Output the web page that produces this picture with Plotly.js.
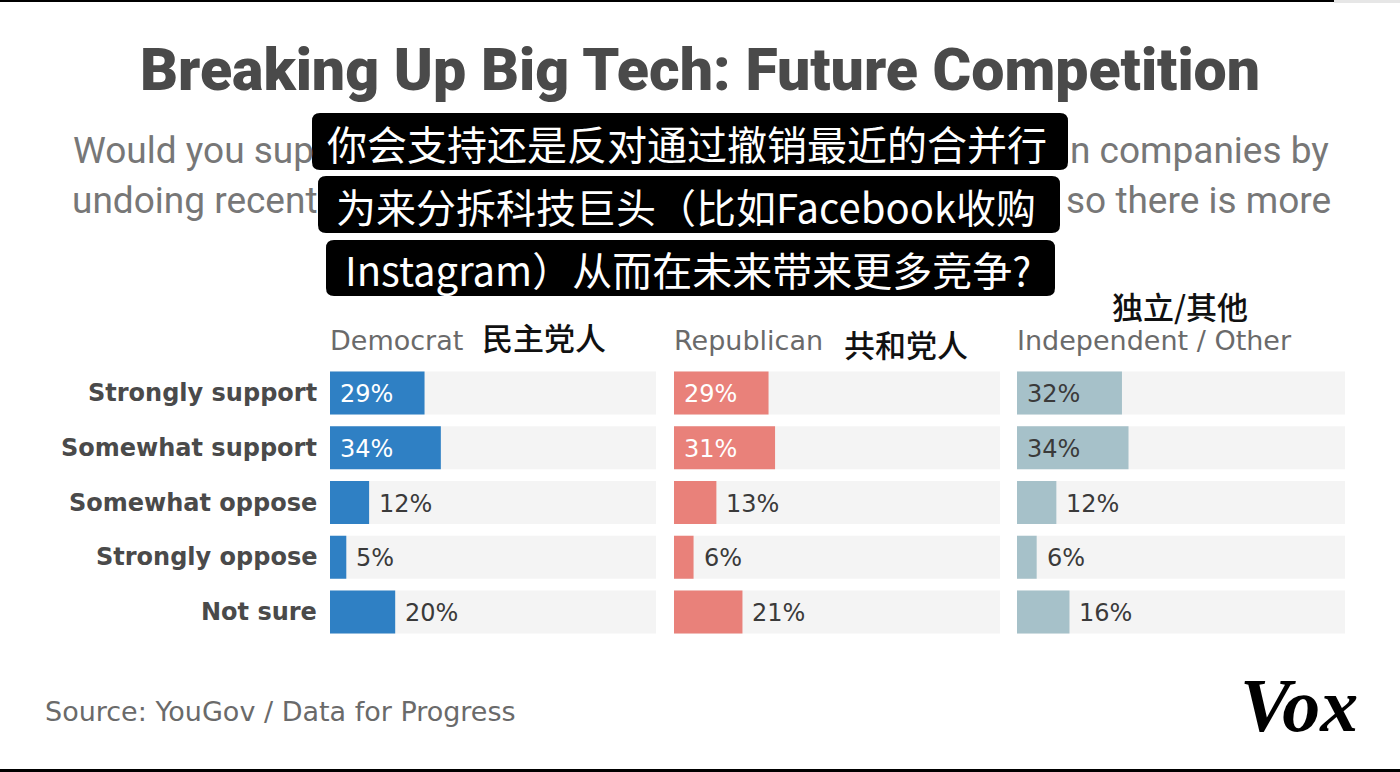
<!DOCTYPE html>
<html>
<head>
<meta charset="utf-8">
<script src="https://cdn.plot.ly/plotly-3.0.1.min.js"></script>
<style>html,body{margin:0;padding:0;background:#fff;}#chart{width:1400px;height:772px;}</style>
</head>
<body>
<div id="chart"></div>
<script>
// ---- data ----
const categories = ['Strongly support', 'Somewhat support', 'Somewhat oppose', 'Strongly oppose', 'Not sure'];
const democrat = [29, 34, 12, 5, 20];
const republican = [29, 31, 13, 6, 21];
const independent = [32, 34, 12, 6, 16];
const groupNames = ['Democrat', 'Republican', 'Independent / Other'];
const groupNamesZh = ['民主党人', '共和党人', '独立/其他'];
const titleText = 'Breaking Up Big Tech: Future Competition';
// visible fragments of the English question (the rest is hidden behind the caption boxes)
const subtitleLeft = ['Would you sup', 'undoing recent'];
const subtitleRight = ['n companies by', 'so there is more'];
const subtitleZh = [
  '你会支持还是反对通过撤销最近的合并行',
  '为来分拆科技巨头（比如Facebook收购',
  'Instagram）从而在未来带来更多竞争?'
];
const sourceText = 'Source: YouGov / Data for Progress';
const logoText = 'Vox';

// ---- layout helpers ----
const W = 1400, H = 772;
const px = v => v / W;
const py = v => 1 - v / H;

const series = [democrat, republican, independent];
const colors = ['#2f80c4', '#e9817a', '#a6c1c9'];
const insideText = ['#ffffff', '#ffffff', '#3a3a3a'];
const axisIds = ['x', 'x2', 'x3'];
const domains = [[330, 656], [674, 1000], [1017, 1345]];
const bodyFont = 'DejaVu Sans, sans-serif';

const traces = [];
const annotations = [];

series.forEach((vals, i) => {
  traces.push({
    type: 'bar', orientation: 'h',
    y: categories, x: categories.map(() => 100),
    xaxis: axisIds[i], yaxis: 'y',
    marker: {color: '#f4f4f4'}, hoverinfo: 'skip', showlegend: false
  });
  traces.push({
    type: 'bar', orientation: 'h',
    y: categories, x: vals,
    xaxis: axisIds[i], yaxis: 'y',
    marker: {color: colors[i]}, showlegend: false,
    hovertemplate: '%{y}: %{x}%<extra>' + groupNames[i] + '</extra>'
  });
  vals.forEach((v, j) => {
    const inside = v >= 25;
    annotations.push({
      xref: axisIds[i], yref: 'y',
      x: inside ? 0 : v, y: categories[j],
      xanchor: 'left', yanchor: 'middle', xshift: 8, yshift: -1,
      text: v + '%', showarrow: false,
      font: {family: bodyFont, size: 24, color: inside ? insideText[i] : '#3a3a3a'}
    });
  });
  // group header
  annotations.push({
    xref: 'paper', yref: 'paper', x: px(domains[i][0] - 2), y: py(340),
    xanchor: 'left', yanchor: 'middle', showarrow: false,
    text: groupNames[i],
    font: {family: bodyFont, size: 27, color: '#6a6a6a'}
  });
});

// Chinese group headers
const zhPos = [[480, 336], [842, 343], [1110, 305]];
groupNamesZh.forEach((t, i) => {
  annotations.push({
    xref: 'paper', yref: 'paper', x: px(zhPos[i][0]), y: py(zhPos[i][1]),
    xanchor: 'left', yanchor: 'middle', showarrow: false, text: t,
    font: {family: 'Noto Sans CJK SC, sans-serif', size: 31, color: '#111', weight: 500}
  });
});

// category labels
categories.forEach(c => {
  annotations.push({
    xref: 'paper', yref: 'y', x: px(319), y: c,
    xanchor: 'right', yanchor: 'middle', showarrow: false, yshift: 0,
    text: '<b>' + c + '</b>',
    font: {family: bodyFont, size: 24, color: '#4a4a4a'}
  });
});

// title
annotations.push({
  xref: 'paper', yref: 'paper', x: 0.5, y: py(70), xanchor: 'center', yanchor: 'middle',
  showarrow: false, text: titleText,
  font: {family: 'Roboto, sans-serif', size: 59, color: '#4a4a4a', weight: 900}
});

// English subtitle fragments around the caption boxes
[150, 200].forEach((y, k) => {
  annotations.push({
    xref: 'paper', yref: 'paper', x: px(k === 0 ? 316 : 320), y: py(y), xanchor: 'right', yanchor: 'middle',
    showarrow: false, text: subtitleLeft[k],
    font: {family: 'Roboto, sans-serif', size: 37, color: '#777'}
  });
  annotations.push({
    xref: 'paper', yref: 'paper', x: px(k === 0 ? 1068 : 1064), y: py(y), xanchor: 'left', yanchor: 'middle',
    showarrow: false, text: subtitleRight[k],
    font: {family: 'Roboto, sans-serif', size: 37, color: '#777'}
  });
});

// caption boxes
const boxes = [[312, 113, 1068, 170], [318, 176, 1060, 233], [326, 240, 1055, 296]];
function roundRect(x0, y0, x1, y1, r) {
  const X = v => px(v), Y = v => py(v);
  return 'M' + X(x0 + r) + ',' + Y(y0) +
    ' L' + X(x1 - r) + ',' + Y(y0) +
    ' Q' + X(x1) + ',' + Y(y0) + ' ' + X(x1) + ',' + Y(y0 + r) +
    ' L' + X(x1) + ',' + Y(y1 - r) +
    ' Q' + X(x1) + ',' + Y(y1) + ' ' + X(x1 - r) + ',' + Y(y1) +
    ' L' + X(x0 + r) + ',' + Y(y1) +
    ' Q' + X(x0) + ',' + Y(y1) + ' ' + X(x0) + ',' + Y(y1 - r) +
    ' L' + X(x0) + ',' + Y(y0 + r) +
    ' Q' + X(x0) + ',' + Y(y0) + ' ' + X(x0 + r) + ',' + Y(y0) + ' Z';
}
const shapes = boxes.map(b => ({
  type: 'path', xref: 'paper', yref: 'paper', path: roundRect(b[0], b[1], b[2], b[3], 8),
  fillcolor: '#000', line: {width: 0}, layer: 'above'
}));
boxes.forEach((b, k) => {
  annotations.push({
    xref: 'paper', yref: 'paper', x: px((b[0] + b[2]) / 2 - 3), y: py((b[1] + b[3]) / 2 + 1),
    xanchor: 'center', yanchor: 'middle', showarrow: false, text: subtitleZh[k],
    font: {family: 'Noto Sans CJK SC, sans-serif', size: 40, color: '#fff'}
  });
});

// frame lines
shapes.push({type: 'rect', xref: 'paper', yref: 'paper', x0: 0, x1: px(1334), y0: py(2), y1: 1, fillcolor: '#000', line: {width: 0}});
shapes.push({type: 'rect', xref: 'paper', yref: 'paper', x0: px(1334), x1: 1, y0: py(3), y1: 1, fillcolor: '#e6e6e6', line: {width: 0}});
shapes.push({type: 'rect', xref: 'paper', yref: 'paper', x0: 0, x1: 1, y0: 0, y1: py(769), fillcolor: '#000', line: {width: 0}});

// source + logo
annotations.push({
  xref: 'paper', yref: 'paper', x: px(43), y: py(711), xanchor: 'left', yanchor: 'middle',
  showarrow: false, text: sourceText,
  font: {family: bodyFont, size: 27, color: '#6a6a6a'}
});
annotations.push({
  xref: 'paper', yref: 'paper', x: px(1299), y: py(705), xanchor: 'center', yanchor: 'middle',
  showarrow: false, text: '<b><i>' + logoText + '</i></b>',
  font: {family: 'Liberation Serif, serif', size: 76, color: '#000'}
});

const xaxisBase = {range: [0, 100], showgrid: false, zeroline: false, showticklabels: false, fixedrange: true};
const layout = {
  width: W, height: H,
  margin: {l: 0, r: 0, t: 0, b: 0},
  paper_bgcolor: '#fff', plot_bgcolor: 'rgba(0,0,0,0)',
  barmode: 'overlay', bargap: 0.215,
  showlegend: false,
  xaxis: Object.assign({domain: [px(domains[0][0]), px(domains[0][1])]}, xaxisBase),
  xaxis2: Object.assign({domain: [px(domains[1][0]), px(domains[1][1])], anchor: 'y'}, xaxisBase),
  xaxis3: Object.assign({domain: [px(domains[2][0]), px(domains[2][1])], anchor: 'y'}, xaxisBase),
  yaxis: {domain: [py(639.4), py(365.6)], type: 'category', categoryorder: 'array', categoryarray: categories,
          range: [4.5, -0.5], showgrid: false, zeroline: false, showticklabels: false, fixedrange: true},
  shapes: shapes,
  annotations: annotations
};

Plotly.newPlot('chart', traces, layout, {displayModeBar: false});
</script>
</body>
</html>
